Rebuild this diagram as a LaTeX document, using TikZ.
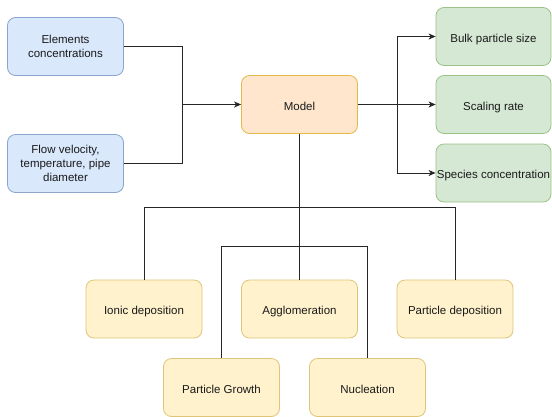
\documentclass[tikz,border=0pt]{standalone}
\usepackage{fontspec}
\setmainfont{Liberation Sans}
\usetikzlibrary{arrows.meta}
\definecolor{bfill}{HTML}{DAE8FC}\definecolor{bdraw}{HTML}{6C8EBF}
\definecolor{ofill}{HTML}{FFE6CC}\definecolor{odraw}{HTML}{D79B00}
\definecolor{gfill}{HTML}{D5E8D4}\definecolor{gdraw}{HTML}{82B366}
\definecolor{yfill}{HTML}{FFF2CC}\definecolor{ydraw}{HTML}{D6B656}
\definecolor{txt}{HTML}{1A1A1A}
\tikzset{
  box/.style={rectangle, rounded corners=8pt, line width=0.8pt, minimum width=116pt, minimum height=58pt,
    inner sep=0pt, align=center, text=txt, font=\fontsize{11.5pt}{14pt}\selectfont},
  oneline/.style={text height=13.5pt, text depth=2.5pt},
  bluebox/.style={box, fill=bfill, draw=bdraw!80},
  orangebox/.style={box, oneline, fill=ofill, draw=odraw!70},
  greenbox/.style={box, oneline, fill=gfill, draw=gdraw!80},
  yellowbox/.style={box, oneline, fill=yfill, draw=ydraw!80},
  conn/.style={line width=0.9pt, draw=black!85},
  arr/.style={conn, -{Stealth[length=7pt,width=6pt,inset=2pt]}}
}
\begin{document}
\begin{tikzpicture}[x=1pt,y=-1pt]
\useasboundingbox (0,0) rectangle (552,416);
\node[bluebox] (b1) at (65.5,46.5) {Elements\\concentrations};
\node[bluebox] (b2) at (65.5,163.5) {Flow velocity,\\temperature, pipe\\diameter};
\node[orangebox] (model) at (299.5,104.5) {Model};
\node[greenbox, minimum width=115pt] (g1) at (493.5,36.5) {Bulk particle size};
\node[greenbox, minimum width=115pt] (g2) at (493.5,104.5) {Scaling rate};
\node[greenbox, minimum width=115pt] (g3) at (493.5,173) {Species concentration};
\node[yellowbox] (ion) at (144,309) {Ionic deposition};
\node[yellowbox] (agg) at (299.5,309) {Agglomeration};
\node[yellowbox] (pdep) at (455,309) {Particle deposition};
\node[yellowbox] (pg) at (221.5,387.5) {Particle Growth};
\node[yellowbox] (nuc) at (367.5,387.5) {Nucleation};
\coordinate (j1) at (182,104.5);
\coordinate (j2) at (397,104.5);
\coordinate (h1) at (299.5,207);
\coordinate (h2) at (299.5,246);
\draw[conn] (b1.east) -| (j1);
\draw[conn] (b2.east) -| (j1);
\draw[arr] (j1) -- (model.west);
\draw[conn] (model.east) -- (j2);
\draw[arr] (j2) |- (g1.west);
\draw[arr] (j2) -- (g2.west);
\draw[arr] (j2) |- (g3.west);
\draw[conn] (model.south) -- (agg.north);
\draw[conn] (h1) -| (ion.north);
\draw[conn] (h1) -| (pdep.north);
\draw[conn] (h2) -| (pg.north);
\draw[conn] (h2) -| (nuc.north);
\end{tikzpicture}
\end{document}
